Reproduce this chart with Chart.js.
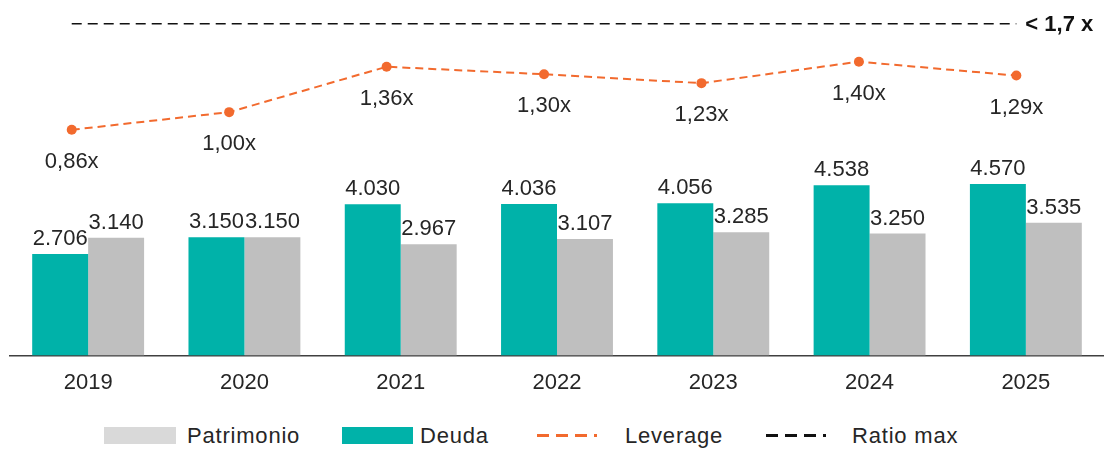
<!DOCTYPE html>
<html>
<head>
<meta charset="utf-8">
<script src="https://cdn.jsdelivr.net/npm/chart.js@4.4.1/dist/chart.umd.min.js"></script>
<style>
  html, body { margin:0; padding:0; background:#fff; }
  #wrap { position:relative; width:1104px; height:451px; overflow:hidden; font-family:'Liberation Sans', Arial, sans-serif; color:#262626; }
  .box { position:absolute; left:0; top:0; width:1104px; height:420px; }
  #lineBox { pointer-events:none; }
  .lg { position:absolute; top:424px; height:24px; line-height:24px; font-size:22px; white-space:nowrap; letter-spacing:0.8px; }
  .lg .sw { position:absolute; top:3px; height:17px; }
  .lg svg { position:absolute; top:0; }
  .lg span { position:absolute; top:0; }
</style>
</head>
<body>
<div id="wrap">
  <div class="box"><canvas id="barChart"></canvas></div>
  <div class="box" id="lineBox"><canvas id="lineChart"></canvas></div>
  <div id="legend"></div>
</div>
<script>
const years = ['2019','2020','2021','2022','2023','2024','2025'];
const deuda = [2706, 3150, 4030, 4036, 4056, 4538, 4570];
const patrimonio = [3140, 3150, 2967, 3107, 3285, 3250, 3535];
const leverage = [0.86, 1.00, 1.36, 1.30, 1.23, 1.40, 1.29];
const ratioMax = [1.7, 1.7, 1.7, 1.7, 1.7, 1.7, 1.7];
const ratioLabel = '< 1,7 x';

const TEAL = '#00b2a9', GREY = '#bfbfbf', GREY_LG = '#d9d9d9', ORANGE = '#f26a2e', INK = '#262626';
const FONT = "'Liberation Sans', Arial, sans-serif";

const fmtThousands = v => String(v).replace(/\B(?=(\d{3})+(?!\d))/g, '.');
const fmtLev = v => v.toFixed(2).replace('.', ',') + 'x';

const barLabels = {
  id:'barLabels',
  afterDatasetsDraw(chart){
    const ctx = chart.ctx;
    ctx.save();
    ctx.fillStyle = INK;
    ctx.font = `22px ${FONT}`;
    ctx.textAlign = 'center';
    ctx.textBaseline = 'alphabetic';
    chart.data.datasets.forEach((ds, di) => {
      chart.getDatasetMeta(di).data.forEach((el,i) => ctx.fillText(fmtThousands(ds.data[i]), el.x, el.y - 9));
    });
    ctx.restore();
  }
};

const lineLabels = {
  id:'lineLabels',
  afterDatasetsDraw(chart){
    const ctx = chart.ctx;
    ctx.save();
    ctx.fillStyle = INK;
    ctx.font = `22px ${FONT}`;
    ctx.textAlign = 'center';
    ctx.textBaseline = 'middle';
    chart.getDatasetMeta(0).data.forEach((el,i) => ctx.fillText(fmtLev(leverage[i]), el.x, el.y + 32));
    const rm = chart.getDatasetMeta(1).data;
    const last = rm[rm.length-1];
    ctx.font = `bold 22px ${FONT}`;
    ctx.fillStyle = '#111';
    ctx.textAlign = 'left';
    ctx.fillText(ratioLabel, last.x + 9, last.y + 1);
    ctx.restore();
  }
};

// bars: Deuda then Patrimonio per year
new Chart(document.getElementById('barChart'), {
  type:'bar',
  data:{
    labels: years,
    datasets:[
      { label:'Deuda', data: deuda, backgroundColor: TEAL, barPercentage:1, categoryPercentage:0.716 },
      { label:'Patrimonio', data: patrimonio, backgroundColor: GREY, barPercentage:1, categoryPercentage:0.716 }
    ]
  },
  options:{
    responsive:true, maintainAspectRatio:false, animation:false,
    layout:{ padding:{ left:10, right:0, top:10, bottom:18 } },
    plugins:{ legend:{ display:false }, tooltip:{ enabled:false } },
    scales:{
      x:{ type:'category', offset:true, grid:{ display:false }, border:{ display:true, color:'#404040', width:1.5 },
          ticks:{ color: INK, font:{ size:22, family: FONT }, padding:6 } },
      y:{ display:false, min:0, max:9200 }
    }
  },
  plugins:[barLabels]
});

// leverage and ratio max, overlaid on the same plot area
new Chart(document.getElementById('lineChart'), {
  type:'line',
  data:{
    datasets:[
      { label:'Leverage', data: leverage.map((v,i)=>({x:i, y:v})), borderColor: ORANGE, backgroundColor: ORANGE,
        borderWidth:2, borderDash:[8,5], pointRadius:5, pointBackgroundColor: ORANGE, pointBorderWidth:0, tension:0 },
      { label:'Ratio max', data: ratioMax.map((v,i)=>({x:i, y:v})), borderColor:'#111',
        borderWidth:1.5, borderDash:[10,6], pointRadius:0, tension:0 }
    ]
  },
  options:{
    responsive:true, maintainAspectRatio:false, animation:false,
    layout:{ padding:{ left:10, right:0, top:10, bottom:64.5 } },
    plugins:{ legend:{ display:false }, tooltip:{ enabled:false } },
    scales:{
      x:{ type:'linear', display:false, offset:false, min:-0.392, max:6.525 },
      y:{ display:false, min:-0.93, max:1.81 }
    }
  },
  plugins:[lineLabels]
});

// legend in the same order as the reference
const legendItems = [
  { text:'Patrimonio', kind:'box', color: GREY_LG, left:104, w:72, tx:187 },
  { text:'Deuda', kind:'box', color: TEAL, left:342, w:71, tx:420 },
  { text:'Leverage', kind:'dash', color: ORANGE, left:537, w:60, tx:625 },
  { text:'Ratio max', kind:'dash', color:'#111', left:766, w:60, tx:852 }
];
document.getElementById('legend').innerHTML = legendItems.map(it => {
  const mark = it.kind === 'box'
    ? `<div class="sw" style="left:${it.left}px;width:${it.w}px;background:${it.color}"></div>`
    : `<svg style="left:${it.left}px" width="${it.w}" height="24"><line x1="0" y1="11.5" x2="${it.w}" y2="11.5" stroke="${it.color}" stroke-width="3" stroke-dasharray="12 7"/></svg>`;
  return `<div class="lg" style="left:0">${mark}<span style="left:${it.tx}px">${it.text}</span></div>`;
}).join('');
</script>
</body>
</html>
